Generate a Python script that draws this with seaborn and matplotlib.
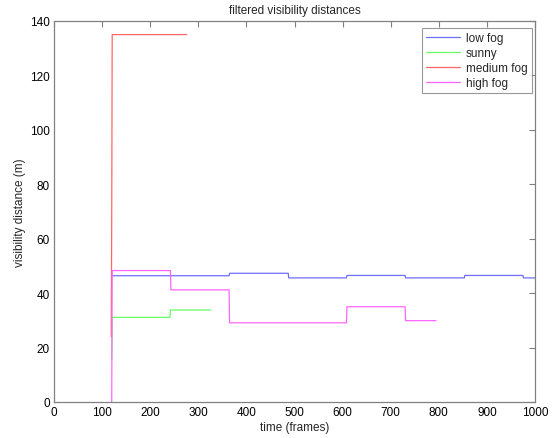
import matplotlib
matplotlib.use("Agg")
import matplotlib.pyplot as plt
import seaborn as sns
import pandas as pd

# ---- data (frame, visibility distance in m) ----
low_fog_t = [120, 121, 364, 365, 487, 488, 608, 609, 730, 731, 853, 854, 975, 976, 1000]
low_fog_v = [46.4, 46.4, 46.4, 47.3, 47.3, 45.6, 45.6, 46.5, 46.5, 45.6, 45.6, 46.5, 46.5, 45.6, 45.6]

sunny_t = [120, 121, 241, 242, 326]
sunny_v = [15.5, 31.1, 31.1, 33.8, 33.8]

medium_fog_t = [119, 120, 121, 276]
medium_fog_v = [24.0, 67.0, 135.0, 135.0]

high_fog_t = [120, 121, 242, 243, 364, 365, 608, 609, 730, 731, 794]
high_fog_v = [0.0, 48.3, 48.3, 41.2, 41.2, 29.1, 29.1, 35.0, 35.0, 29.9, 29.9]

series_names = ["low fog", "sunny", "medium fog", "high fog"]
x_ticks = list(range(0, 1001, 100))
y_ticks = list(range(0, 141, 20))

frames = []
for name, t, v in zip(series_names,
                      [low_fog_t, sunny_t, medium_fog_t, high_fog_t],
                      [low_fog_v, sunny_v, medium_fog_v, high_fog_v]):
    frames.append(pd.DataFrame({"time": t, "dist": v, "series": name}))
df = pd.concat(frames, ignore_index=True)

sns.set_theme(style="white")
plt.rcParams["font.family"] = ["Liberation Sans", "DejaVu Sans"]

fig = plt.figure(figsize=(5.57, 4.39), dpi=100)
ax = fig.add_axes([54 / 557, 36 / 439, 481 / 557, 381 / 439])

palette = {"low fog": "#6e6eff", "sunny": "#66ff66",
           "medium fog": "#ff6666", "high fog": "#ff66ff"}
sns.lineplot(data=df, x="time", y="dist", hue="series", hue_order=series_names,
             palette=palette, sort=False, estimator=None, linewidth=0.9, ax=ax)

ax.set_xlim(0, 1000)
ax.set_ylim(0, 140)
ax.set_xticks(x_ticks)
ax.set_yticks(y_ticks)
ax.tick_params(axis="both", direction="in", length=4, width=0.8, color="#808080",
               labelsize=8.5, labelcolor="black", top=True, right=True, pad=3)
for s in ax.spines.values():
    s.set_color("#808080")
    s.set_linewidth(0.9)
ax.set_xlabel("time (frames)", fontsize=8.5, labelpad=2)
ax.set_ylabel("visibility distance (m)", fontsize=8.5, labelpad=3)
ax.set_title("filtered visibility distances", fontsize=8.5, pad=6)

leg = ax.legend(loc="upper right", fontsize=8.5, frameon=True, fancybox=False,
                handlelength=2.9, borderpad=0.35, labelspacing=0.25,
                bbox_to_anchor=(0.993, 0.982), borderaxespad=0, handletextpad=0.5)
leg.get_frame().set_edgecolor("#808080")
leg.get_frame().set_linewidth(0.8)
for line in leg.get_lines():
    line.set_linewidth(0.9)

fig.savefig("out.png", dpi=100, facecolor="white")
